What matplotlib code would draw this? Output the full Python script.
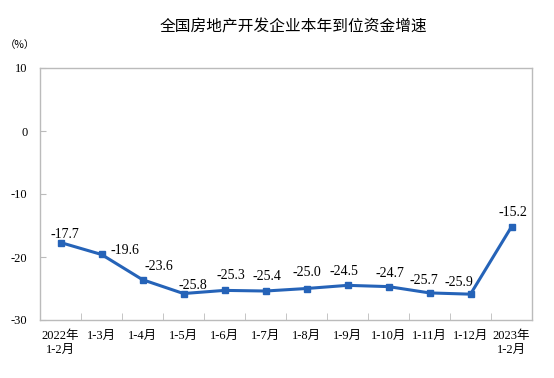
import matplotlib
matplotlib.use("Agg")
import matplotlib.pyplot as plt
import numpy as np

categories = ["2022年\n1-2月", "1-3月", "1-4月", "1-5月", "1-6月", "1-7月", "1-8月",
              "1-9月", "1-10月", "1-11月", "1-12月", "2023年\n1-2月"]
values = [-17.7, -19.6, -23.6, -25.8, -25.3, -25.4, -25.0, -24.5, -24.7, -25.7, -25.9, -15.2]
yticks = [10, 0, -10, -20, -30]

cjk = ['Noto Sans CJK SC', 'DejaVu Sans']
mixed = ['Liberation Serif', 'Noto Sans CJK SC']
serif = ['Liberation Serif', 'DejaVu Serif']

fig = plt.figure(figsize=(5.54, 3.78), dpi=100)
ax = fig.add_axes([40/554, 1-320/378, (532-40)/554, (320-68)/378])

x = np.arange(len(values))
color = '#2563B8'
ax.plot(x, values, color=color, lw=2.2, marker='s', ms=4.5, zorder=3)

ax.set_xlim(-0.5, len(values) - 0.5)
ax.set_ylim(-30, 10)
ax.set_yticks(yticks)
ax.set_yticklabels([str(v) for v in yticks], fontfamily=serif, fontsize=9)
ax.set_xticks(x)
ax.set_xticklabels(categories, fontfamily=mixed, fontsize=9, linespacing=1.25)
ax.tick_params(axis='x', length=0, pad=7)
ax.set_xticks(np.arange(0.5, len(values) - 0.5, 1), minor=True)
ax.tick_params(axis='x', which='minor', direction='in', length=5, color='#BBBBBB')
ax.tick_params(axis='y', direction='in', length=4, color='#BBBBBB', pad=9)

for s in ax.spines.values():
    s.set_color('#BBBBBB')
    s.set_linewidth(1.0)

# label offsets in pixels (dx, dy up)
offsets = [(4, 8), (23, 4), (16, 13), (9, 8), (6, 15), (1, 15), (0, 16),
           (-4, 14), (1, 13), (-6, 12), (-12, 12), (1, 14)]
for i, v in enumerate(values):
    dx, dy = offsets[i]
    ax.annotate(f"{v:.1f}", (i, v), xytext=(dx * 0.72, dy * 0.72), textcoords='offset points',
                ha='center', va='center', fontfamily=serif, fontsize=10)

fig.text(293/554, 1-27/378, "全国房地产开发企业本年到位资金增速", ha='center', va='center',
         fontfamily=cjk, fontsize=11.3)
fig.text(20/554, 1-45/378, "（%）", ha='center', va='center', fontfamily=cjk, fontsize=7.5)

fig.savefig("out.png", dpi=100)
